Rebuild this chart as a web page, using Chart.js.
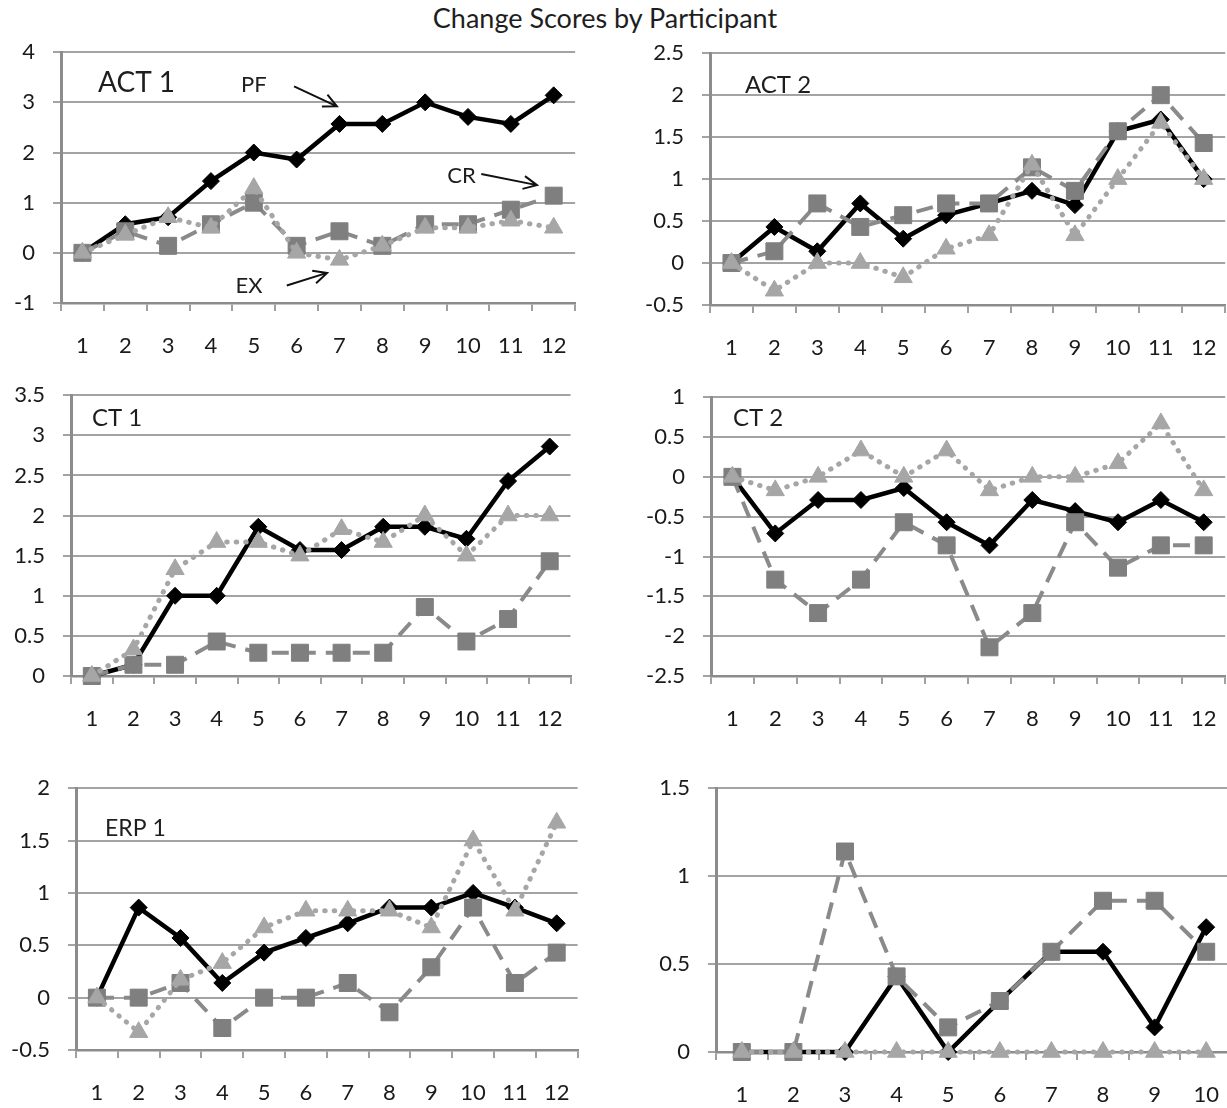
<!DOCTYPE html>
<html>
<head>
<meta charset="utf-8">
<script src="https://cdn.jsdelivr.net/npm/chart.js@4.4.1/dist/chart.umd.min.js"></script>
<style>
  body { margin: 0; width: 1227px; height: 1108px; overflow: hidden; background: #fff; position: relative; font-family: Lato, sans-serif; }
  #titulo { position: absolute; left: 0; width: 1210px; top: 3px; text-align: center; font-size: 27px; line-height: 30px; color: #1e1e1e; }
  canvas { position: absolute; }
</style>
</head>
<body>
<div id="titulo">Change Scores by Participant</div>
<canvas id="c1"></canvas>
<canvas id="c2"></canvas>
<canvas id="c3"></canvas>
<canvas id="c4"></canvas>
<canvas id="c5"></canvas>
<canvas id="c6"></canvas>
<script>
//Datos

const participantes12 = ['1', '2', '3', '4', '5', '6', '7', '8', '9', '10', '11', '12'];
const participantes10 = ['1', '2', '3', '4', '5', '6', '7', '8', '9', '10'];
const nombresPanel = ['ACT 1', 'ACT 2', 'CT 1', 'CT 2', 'ERP 1', ''];
const nombresSerie = ['PF', 'CR', 'EX'];

const act1PF = [0, 0.57, 0.71, 1.43, 2.0, 1.86, 2.57, 2.57, 3.0, 2.71, 2.57, 3.14];
const act1CR = [0, 0.43, 0.14, 0.57, 1.0, 0.14, 0.43, 0.14, 0.57, 0.57, 0.86, 1.14];
const act1EX = [0, 0.36, 0.71, 0.5, 1.29, 0, -0.14, 0.14, 0.5, 0.5, 0.64, 0.5];
const act1Ticks = [-1, 0, 1, 2, 3, 4];

const act2PF = [0, 0.43, 0.14, 0.71, 0.29, 0.57, 0.71, 0.86, 0.69, 1.57, 1.71, 1.0];
const act2CR = [0, 0.14, 0.71, 0.43, 0.57, 0.71, 0.71, 1.14, 0.86, 1.57, 2.0, 1.43];
const act2EX = [0, -0.33, 0, 0, -0.17, 0.17, 0.33, 1.17, 0.33, 1.0, 1.67, 1.0];
const act2Ticks = [-0.5, 0, 0.5, 1, 1.5, 2, 2.5];

const ct1PF = [0, 0.14, 1.0, 1.0, 1.86, 1.57, 1.57, 1.86, 1.86, 1.71, 2.43, 2.86];
const ct1CR = [0, 0.14, 0.14, 0.43, 0.29, 0.29, 0.29, 0.29, 0.86, 0.43, 0.71, 1.43];
const ct1EX = [0, 0.33, 1.33, 1.67, 1.67, 1.5, 1.83, 1.67, 2.0, 1.5, 2.0, 2.0];
const ct1Ticks = [0, 0.5, 1, 1.5, 2, 2.5, 3, 3.5];

const ct2PF = [0, -0.71, -0.29, -0.29, -0.14, -0.57, -0.86, -0.29, -0.43, -0.57, -0.29, -0.57];
const ct2CR = [0, -1.29, -1.71, -1.29, -0.57, -0.86, -2.14, -1.71, -0.57, -1.14, -0.86, -0.86];
const ct2EX = [0, -0.17, 0, 0.33, 0, 0.33, -0.17, 0, 0, 0.17, 0.67, -0.17];
const ct2Ticks = [-2.5, -2, -1.5, -1, -0.5, 0, 0.5, 1];

const erp1PF = [0, 0.86, 0.57, 0.14, 0.43, 0.57, 0.71, 0.86, 0.86, 1.0, 0.86, 0.71];
const erp1CR = [0, 0, 0.14, -0.29, 0, 0, 0.14, -0.14, 0.29, 0.86, 0.14, 0.43];
const erp1EX = [0, -0.33, 0.17, 0.33, 0.67, 0.83, 0.83, 0.83, 0.67, 1.5, 0.83, 1.67];
const erp1Ticks = [-0.5, 0, 0.5, 1, 1.5, 2];

const erp2PF = [0, 0, 0, 0.43, 0, 0.29, 0.57, 0.57, 0.14, 0.71];
const erp2CR = [0, 0, 1.14, 0.43, 0.14, 0.29, 0.57, 0.86, 0.86, 0.57];
const erp2EX = [0, 0, 0, 0, 0, 0, 0, 0, 0, 0];
const erp2Ticks = [0, 0.5, 1, 1.5];

// notas del primer panel (posicion en indice de categoria / valor)
const notasAct1 = [
  { texto: 'PF', x: 4.0, y: 3.35, desde: [4.94, 3.32], hasta: [5.94, 2.92] },
  { texto: 'CR', x: 8.85, y: 1.53, desde: [9.31, 1.57], hasta: [10.61, 1.35] },
  { texto: 'EX', x: 3.89, y: -0.65, desde: [4.77, -0.65], hasta: [5.71, -0.4] }
];

//Medidas

const ANCHO_Y = 72;
const ALTO_X = 64;
const MARGEN_S = 20;
const MARGEN_D = 4;
const FUENTE = 'Lato';

const paneles = [
  { id: 'c1', nombre: nombresPanel[0], labels: participantes12, pf: act1PF, cr: act1CR, ex: act1EX, ticks: act1Ticks, caja: [61, 575, 52, 303], dx: 37, dy: 31, size: 28 },
  { id: 'c2', nombre: nombresPanel[1], labels: participantes12, pf: act2PF, cr: act2CR, ex: act2EX, ticks: act2Ticks, caja: [710, 1225, 53, 305], dx: 35, dy: 32, size: 24 },
  { id: 'c3', nombre: nombresPanel[2], labels: participantes12, pf: ct1PF, cr: ct1CR, ex: ct1EX, ticks: ct1Ticks, caja: [71, 571, 395, 676], dx: 21, dy: 23, size: 24 },
  { id: 'c4', nombre: nombresPanel[3], labels: participantes12, pf: ct2PF, cr: ct2CR, ex: ct2EX, ticks: ct2Ticks, caja: [711, 1225, 397, 676], dx: 22, dy: 21, size: 24 },
  { id: 'c5', nombre: nombresPanel[4], labels: participantes12, pf: erp1PF, cr: erp1CR, ex: erp1EX, ticks: erp1Ticks, caja: [76, 578, 788, 1050], dx: 29, dy: 40, size: 23 },
  { id: 'c6', nombre: nombresPanel[5], labels: participantes10, pf: erp2PF, cr: erp2CR, ex: erp2EX, ticks: erp2Ticks, caja: [716, 1232, 788, 1052], dx: 0, dy: 0, size: 23 }
];
paneles[0].notas = notasAct1;

//Funciones auxiliares

function dibujarFlecha(ctx, xa, ya, xb, yb) {
  const ang = Math.atan2(yb - ya, xb - xa);
  ctx.beginPath();
  ctx.moveTo(xa, ya);
  ctx.lineTo(xb, yb);
  ctx.moveTo(xb - 15 * Math.cos(ang - 0.45), yb - 15 * Math.sin(ang - 0.45));
  ctx.lineTo(xb, yb);
  ctx.lineTo(xb - 15 * Math.cos(ang + 0.45), yb - 15 * Math.sin(ang + 0.45));
  ctx.stroke();
}

const textoPanel = {
  id: 'textoPanel',
  afterDatasetsDraw(chart, args, opts) {
    const ctx = chart.ctx;
    const area = chart.chartArea;
    const sx = chart.scales.x;
    const sy = chart.scales.y;
    ctx.save();
    ctx.fillStyle = '#1e1e1e';
    ctx.strokeStyle = '#111';
    ctx.lineWidth = 2;
    ctx.textBaseline = 'middle';
    if (opts.texto) {
      ctx.font = opts.size + 'px ' + FUENTE;
      ctx.textAlign = 'left';
      ctx.fillText(opts.texto, area.left + opts.dx, area.top + opts.dy);
    }
    ctx.font = '22px ' + FUENTE;
    ctx.textAlign = 'center';
    for (const n of opts.notas || []) {
      ctx.fillText(n.texto, sx.getPixelForValue(n.x), sy.getPixelForValue(n.y));
      dibujarFlecha(ctx,
        sx.getPixelForValue(n.desde[0]), sy.getPixelForValue(n.desde[1]),
        sx.getPixelForValue(n.hasta[0]), sy.getPixelForValue(n.hasta[1]));
    }
    ctx.restore();
  }
};

function configurar(p) {
  const fuenteTicks = { family: FUENTE, size: 22 };
  return {
    type: 'line',
    data: {
      labels: p.labels,
      datasets: [
        {
          label: nombresSerie[0], data: p.pf, order: 3, clip: false,
          borderColor: '#000', backgroundColor: '#000', borderWidth: 4.5,
          pointStyle: 'rectRot', pointRadius: 8.5, pointBorderWidth: 1, pointBorderColor: '#000'
        },
        {
          label: nombresSerie[1], data: p.cr, order: 2, clip: false,
          borderColor: '#8a8a8a', backgroundColor: '#7f7f7f', borderWidth: 4, borderDash: [17, 10],
          pointStyle: 'rect', pointRadius: 12, pointBorderWidth: 1, pointBorderColor: '#7f7f7f'
        },
        {
          label: nombresSerie[2], data: p.ex, order: 1, clip: false,
          borderColor: '#a6a6a6', backgroundColor: '#a6a6a6', borderWidth: 5,
          borderDash: [0.5, 9], borderCapStyle: 'round',
          pointStyle: 'triangle', pointRadius: 10.5, pointBorderWidth: 1, pointBorderColor: '#a6a6a6'
        }
      ]
    },
    options: {
      responsive: false,
      animation: false,
      devicePixelRatio: 1,
      layout: { padding: { top: MARGEN_S, right: MARGEN_D, left: 0, bottom: 0 } },
      elements: { line: { tension: 0 } },
      plugins: {
        legend: { display: false },
        tooltip: { enabled: false },
        textoPanel: { texto: p.nombre, dx: p.dx, dy: p.dy, size: p.size, notas: p.notas }
      },
      scales: {
        x: {
          offset: true,
          grid: { offset: true, drawOnChartArea: false, drawTicks: true, tickLength: 8, color: '#a0a0a0', lineWidth: 2 },
          border: { color: '#8c8c8c', width: 2.5 },
          ticks: { color: '#1a1a1a', font: fuenteTicks, padding: 22, maxRotation: 0, autoSkip: false },
          afterFit(s) { s.height = ALTO_X; }
        },
        y: {
          min: p.ticks[0],
          max: p.ticks[p.ticks.length - 1],
          afterBuildTicks(s) { s.ticks = p.ticks.map(v => ({ value: v })); },
          grid: { color: '#a3a3a3', lineWidth: 2, tickLength: 8 },
          border: { color: '#8c8c8c', width: 3 },
          ticks: { color: '#1a1a1a', font: fuenteTicks, padding: 18, callback: v => String(v) },
          afterFit(s) { s.width = ANCHO_Y; }
        }
      }
    },
    plugins: [textoPanel]
  };
}

//Funciones principales

function crearPanel(p) {
  const canvas = document.getElementById(p.id);
  const [x0, x1, y0, y1] = p.caja;
  canvas.style.left = (x0 - ANCHO_Y) + 'px';

  // se ajusta el lienzo hasta que el area del grafico cae donde debe
  let extraS = 0;
  let extraD = 0;
  let grafico = null;
  for (let i = 0; i < 4; i++) {
    if (grafico) grafico.destroy();
    canvas.width = Math.round((x1 - x0) + ANCHO_Y + MARGEN_D + extraD);
    canvas.height = Math.round((y1 - y0) + MARGEN_S + extraS + ALTO_X);
    canvas.style.top = (y0 - MARGEN_S - extraS) + 'px';
    grafico = new Chart(canvas, configurar(p));
    const area = grafico.chartArea;
    const dS = (area.top - MARGEN_S) - extraS;
    const dD = (ANCHO_Y + (x1 - x0)) - area.right;
    if (Math.abs(dS) < 0.5 && Math.abs(dD) < 0.5) break;
    extraS += dS;
    extraD += dD;
  }
  return grafico;
}

// Inicializacion

for (const p of paneles) {
  crearPanel(p);
}
</script>
</body>
</html>
